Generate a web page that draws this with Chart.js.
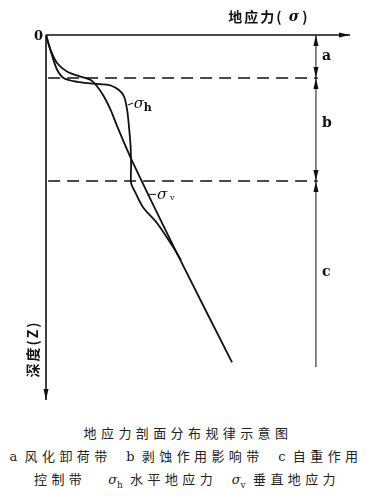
<!DOCTYPE html>
<html lang="zh">
<head>
<meta charset="UTF-8">
<title>地应力剖面分布规律示意图</title>
<script src="https://cdn.jsdelivr.net/npm/chart.js"></script>
<style>
  body { margin: 0; background: #fff; }
  .wrap { position: relative; width: 376px; height: 400px; }
  .caption {
    width: 376px; height: 100px; position: relative;
    font-family: "Noto Sans CJK SC", sans-serif; font-size: 13px; color: #222;
  }
  .caption div { position: absolute; left: 0; width: 376px; text-align: center; white-space: pre; letter-spacing: 4.4px; }
  .caption .lat { font-family: "DejaVu Serif", serif; letter-spacing: 0; }
  .caption .sig { font-family: "DejaVu Serif", serif; font-style: italic; letter-spacing: 0; }
  .caption sub { font-family: "DejaVu Serif", serif; font-size: 9px; letter-spacing: 0; }
</style>
</head>
<body>
<div class="wrap"><canvas id="c"></canvas></div>
<div class="caption">
  <div style="top:23px">地应力剖面分布规律示意图</div>
  <div style="top:46px;left:-2px"><span class="lat">a</span> 风化卸荷带  <span class="lat">b</span> 剥蚀作用影响带  <span class="lat">c</span> 自重作用</div>
  <div style="top:69px;left:-1px"><span>控制带   </span><span class="sig">σ</span><sub>h</sub> 水平地应力  <span class="sig">σ</span><sub>v</sub> 垂直地应力</div>
</div>
<script>
// axis ranges (arbitrary units)
const stressMax = 100;
const depthMax = 120;

// horizontal stress curve
const sigmaHStress = [0, 2.1, 3.7, 5.9, 10.3, 14.7, 18.5, 21.3, 24.0, 25.7, 26.7, 27.3, 27.8, 28.0, 28.0, 29.3, 31.9, 36.5, 41.8, 44.4];
const sigmaHDepth  = [0, 7.1, 11.5, 14.2, 15.4, 15.9, 16.2, 16.6, 18.1, 20.3, 24.7, 30.2, 36.2, 42.8, 48.7, 51.6, 56.6, 61.8, 69.7, 74.0];

// vertical stress curve
const sigmaVStress = [0, 1.5, 3.7, 7.0, 11.4, 14.7, 16.9, 19.1, 21.3, 23.5, 28.2, 44.7, 61.2];
const sigmaVDepth  = [0, 4.9, 9.3, 12.1, 13.7, 14.8, 17.0, 20.3, 24.7, 30.2, 41.1, 75.0, 107.6];

// zone boundaries (depth) and names
const zoneBounds = [0, 14.1, 48.0, 109.2];
const zoneNames = ['a', 'b', 'c'];
const zoneX = 88.8;

const pts = (xs, ys) => xs.map((v, i) => ({ x: v, y: ys[i] }));

const dashed = d => ({
  data: [{ x: 0.7, y: d }, { x: zoneX + 0.6, y: d }],
  borderColor: '#111', borderWidth: 1.5, borderDash: [12, 7],
  pointRadius: 0, tension: 0
});

function arrow(ctx, x, y, dir) {
  // dir: 'up' | 'down' | 'right'
  ctx.beginPath();
  if (dir === 'right') { ctx.moveTo(x, y); ctx.lineTo(x - 11, y - 2.5); ctx.lineTo(x - 11, y + 2.5); }
  if (dir === 'down') { ctx.moveTo(x, y); ctx.lineTo(x - 2.5, y - 11); ctx.lineTo(x + 2.5, y - 11); }
  if (dir === 'up') { ctx.moveTo(x, y); ctx.lineTo(x - 2.5, y + 11); ctx.lineTo(x + 2.5, y + 11); }
  ctx.closePath();
  ctx.fill();
}

const sketch = {
  id: 'sketch',
  afterDraw(chart) {
    const { ctx, scales: { x, y } } = chart;
    const px = v => x.getPixelForValue(v), py = v => y.getPixelForValue(v);
    ctx.save();
    ctx.strokeStyle = '#111';
    ctx.fillStyle = '#111';
    ctx.lineWidth = 1.6;

    // axes
    ctx.beginPath();
    ctx.moveTo(px(0), py(0)); ctx.lineTo(px(stressMax), py(0));
    ctx.moveTo(px(0), py(0)); ctx.lineTo(px(0), py(depthMax));
    ctx.stroke();
    arrow(ctx, px(stressMax), py(0), 'right');
    arrow(ctx, px(0), py(depthMax), 'down');

    // zone dimension line
    ctx.lineWidth = 1;
    ctx.beginPath();
    ctx.moveTo(px(zoneX), py(zoneBounds[0]));
    ctx.lineTo(px(zoneX), py(zoneBounds[3]));
    ctx.stroke();
    arrow(ctx, px(zoneX), py(zoneBounds[0]), 'up');
    arrow(ctx, px(zoneX), py(zoneBounds[1]), 'down');
    arrow(ctx, px(zoneX), py(zoneBounds[1]), 'up');
    arrow(ctx, px(zoneX), py(zoneBounds[2]), 'down');
    arrow(ctx, px(zoneX), py(zoneBounds[2]), 'up');

    ctx.font = 'bold 14px "DejaVu Serif", serif';
    ctx.textAlign = 'left';
    ctx.textBaseline = 'middle';
    const labelY = [zoneBounds[0] + 7, 29, 78];
    zoneNames.forEach((n, i) => ctx.fillText(n, px(zoneX) + 6, py(labelY[i])));

    // origin
    ctx.font = 'bold 13px "DejaVu Serif", serif';
    ctx.textAlign = 'right';
    ctx.fillText('0', px(0) - 3, py(0) + 2);

    // axis titles
    ctx.textAlign = 'center';
    ctx.font = 'bold 14px "Noto Sans CJK SC", sans-serif';
    ctx.letterSpacing = '2px';
    ctx.fillText('地应力(', 256, 17);
    ctx.font = 'italic bold 14px "DejaVu Serif", serif';
    ctx.fillText('σ', 295, 17);
    ctx.font = 'bold 14px "Noto Sans CJK SC", sans-serif';
    ctx.fillText(')', 306, 17);

    ctx.save();
    ctx.translate(33, 349);
    ctx.rotate(-Math.PI / 2);
    ctx.fillText('深度(Z)', 0, 0);
    ctx.restore();
    ctx.letterSpacing = '0px';

    // curve labels with leaders
    ctx.lineWidth = 1;
    ctx.beginPath();
    ctx.moveTo(px(26.9), py(23)); ctx.lineTo(px(28.6), py(22.4));
    ctx.moveTo(px(33.8), py(52.4)); ctx.lineTo(px(36.2), py(52.4));
    ctx.stroke();
    ctx.textAlign = 'left';
    ctx.font = 'italic 15px "DejaVu Serif", serif';
    ctx.fillText('σ', px(28.9), py(22.6));
    ctx.fillText('σ', px(36.5), py(52.6));
    ctx.font = 'bold 11px "DejaVu Serif", serif';
    ctx.fillText('h', px(28.9) + 10, py(22.6) + 4);
    ctx.font = '8px "DejaVu Serif", serif';
    ctx.fillText('v', px(36.5) + 13, py(52.6) + 3);
    ctx.restore();
  }
};

new Chart(document.getElementById('c'), {
  type: 'line',
  data: {
    datasets: [
      { data: pts(sigmaHStress, sigmaHDepth), borderColor: '#111', borderWidth: 1.8, pointRadius: 0, tension: 0.3 },
      { data: pts(sigmaVStress, sigmaVDepth), borderColor: '#111', borderWidth: 1.8, pointRadius: 0, tension: 0.3 },
      dashed(zoneBounds[1]),
      dashed(zoneBounds[2])
    ]
  },
  options: {
    responsive: true,
    maintainAspectRatio: false,
    animation: false,
    layout: { padding: { left: 46, top: 35, right: 26, bottom: 0 } },
    plugins: { legend: { display: false }, tooltip: { enabled: false } },
    scales: {
      x: { type: 'linear', display: false, min: 0, max: stressMax },
      y: { type: 'linear', display: false, min: 0, max: depthMax, reverse: true }
    }
  },
  plugins: [sketch]
});
</script>
</body>
</html>
